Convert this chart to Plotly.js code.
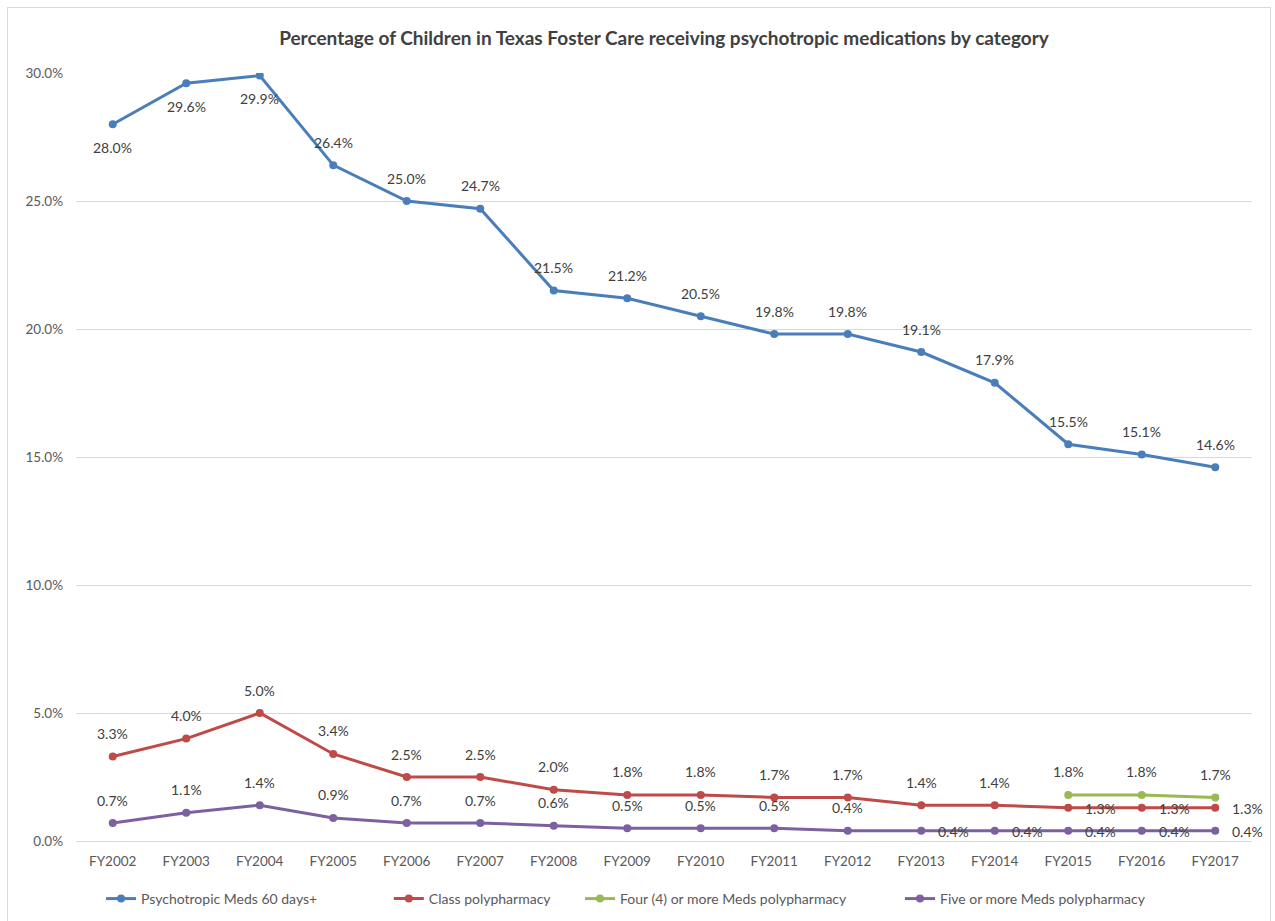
<!DOCTYPE html>
<html>
<head>
<meta charset="utf-8">
<script src="https://cdn.plot.ly/plotly-3.0.1.min.js"></script>
<style>
html,body{margin:0;padding:0;background:#fff;}
#chart{width:1275px;height:921px;position:absolute;left:0;top:0;}
#frame{position:absolute;left:7px;top:7px;width:1262px;height:930px;border:1px solid #d9d9d9;pointer-events:none;}
</style>
</head>
<body>
<div id="chart"></div>
<div id="frame"></div>
<script>
const years = ["FY2002","FY2003","FY2004","FY2005","FY2006","FY2007","FY2008","FY2009","FY2010","FY2011","FY2012","FY2013","FY2014","FY2015","FY2016","FY2017"];
const psychotropic60 = [28.0,29.6,29.9,26.4,25.0,24.7,21.5,21.2,20.5,19.8,19.8,19.1,17.9,15.5,15.1,14.6];
const classPoly = [3.3,4.0,5.0,3.4,2.5,2.5,2.0,1.8,1.8,1.7,1.7,1.4,1.4,1.3,1.3,1.3];
const fourPlus = [null,null,null,null,null,null,null,null,null,null,null,null,null,1.8,1.8,1.7];
const fivePlus = [0.7,1.1,1.4,0.9,0.7,0.7,0.6,0.5,0.5,0.5,0.4,0.4,0.4,0.4,0.4,0.4];
const seriesNames = ["Psychotropic Meds 60 days+","Class polypharmacy","Four (4) or more Meds polypharmacy","Five or more Meds polypharmacy"];
const yTicks = [0,5,10,15,20,25,30];

const colors = ["#4A7EBB","#BE4B48","#98B954","#7D60A0"];
// label placement per series: 'a' above, 'b' below, 'r' right
const place = [
  years.map((_,i)=> i<3 ? 'b' : 'a'),
  years.map((_,i)=> i<13 ? 'a' : 'r'),
  years.map(()=> 'a'),
  years.map((_,i)=> i<11 ? 'a' : 'r')
];
const allSeries = [psychotropic60, classPoly, fourPlus, fivePlus];
const legendNames = ['legend','legend2','legend3','legend4'];
const legendX = [0.0213, 0.266, 0.4286, 0.7007];

const font = "Lato, 'Open Sans', 'DejaVu Sans', sans-serif";
const traces = allSeries.map((vals,k)=>({
  type:'scatter', mode:'lines+markers', x:years, y:vals, name:seriesNames[k],
  line:{color:colors[k], width:3}, marker:{color:colors[k], size:8},
  connectgaps:false, hoverinfo:'x+y', legend:legendNames[k]
}));

const annotations = [];
allSeries.forEach((vals,k)=>{
  vals.forEach((v,i)=>{
    if(v===null) return;
    const p = place[k][i];
    const a = {x:years[i], y:v, xref:'x', yref:'y', text:v.toFixed(1)+'%', showarrow:false,
      font:{family:font, size:14, color:'#404040'}};
    if(p==='a'){ a.yshift = 23; }
    else if(p==='b'){ a.yshift = -23; }
    else { a.xanchor='left'; a.xshift = 15; a.yshift = -1; }
    annotations.push(a);
  });
});

const layout = {
  width:1275, height:921,
  margin:{l:76, r:23, t:73, b:80},
  paper_bgcolor:'#ffffff', plot_bgcolor:'#ffffff',
  title:{text:'<b>Percentage of Children in Texas Foster Care receiving psychotropic medications by category</b>',
    font:{family:font, size:19, color:'#404040'}, x:0.5, xref:'paper', xanchor:'center', y:0.958, yanchor:'middle'},
  xaxis:{type:'category', range:[-0.5,15.5], showgrid:false, zeroline:false, showline:false,
    ticks:'', tickfont:{family:font, size:13.5, color:'#595959'}, ticklabelstandoff:10, fixedrange:true},
  yaxis:{range:[0,30], tickvals:yTicks, ticktext:yTicks.map(t=>t.toFixed(1)+'%'),
    showgrid:true, gridcolor:'#d9d9d9', gridwidth:1, zeroline:true, zerolinecolor:'#d9d9d9',
    showline:false, ticks:'', ticklen:0, tickfont:{family:font, size:13.5, color:'#595959'}, ticklabelstandoff:12, fixedrange:true},
  showlegend:true,
  annotations:annotations
};
legendNames.forEach((ln,k)=>{
  layout[ln] = {orientation:'h', x:legendX[k], xref:'paper', xanchor:'left', y:0.0239, yref:'container', yanchor:'middle',
    font:{family:font, size:14, color:'#595959'}, bgcolor:'rgba(0,0,0,0)', borderwidth:0};
});

Plotly.newPlot('chart', traces, layout, {staticPlot:true, displayModeBar:false});
</script>
</body>
</html>
